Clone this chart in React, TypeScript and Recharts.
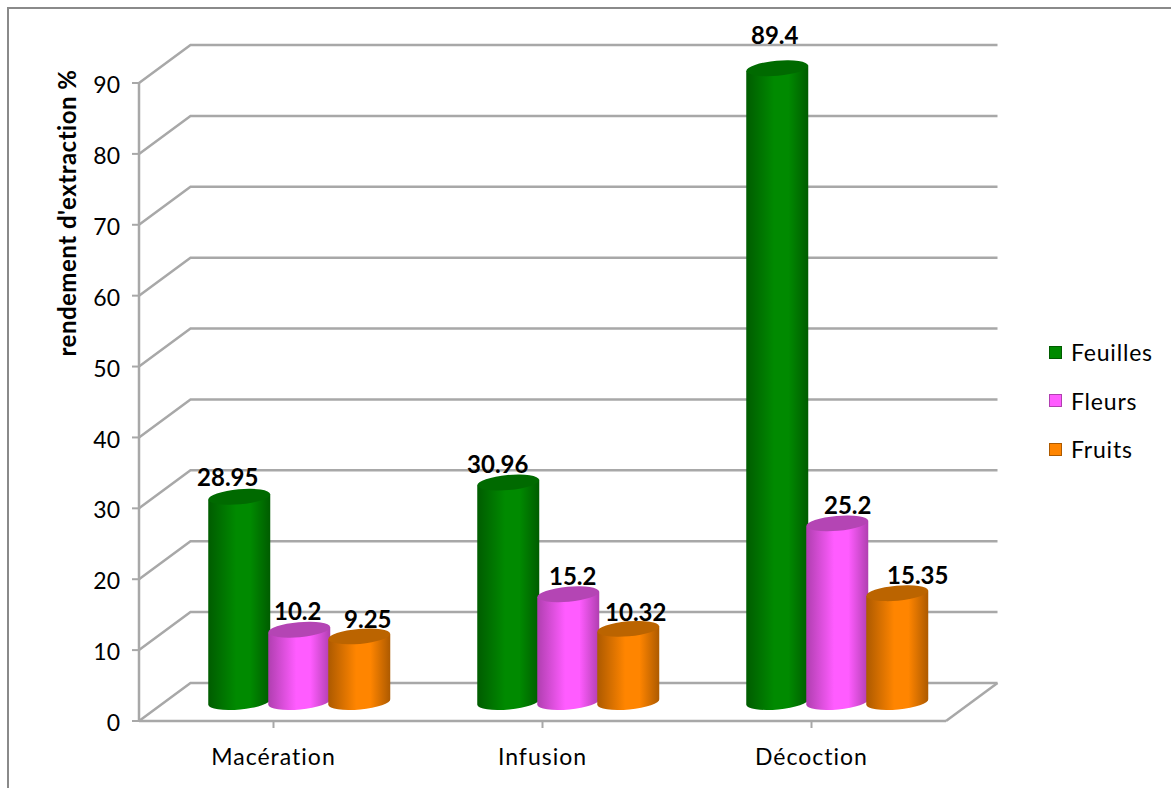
import { BarChart, Bar, XAxis, YAxis, CartesianGrid, Legend, LabelList, Label } from "recharts";

const methods = ["Macération", "Infusion", "Décoction"];
const feuilles = [28.95, 30.96, 89.4];
const fleurs = [10.2, 15.2, 25.2];
const fruits = [9.25, 10.32, 15.35];
const yTicks = [0, 10, 20, 30, 40, 50, 60, 70, 80, 90];

const data = methods.map((method, i) => ({
  method,
  Feuilles: feuilles[i],
  Fleurs: fleurs[i],
  Fruits: fruits[i],
}));

// depth of the fake 3D box: back wall sits up and to the right of the front plane
const DEPTH_X = 51.5;
const DEPTH_Y = 38;
const AXIS_COLOR = "#a8a8a8";
const FONT = "Lato, Carlito, sans-serif";

const palette = {
  Feuilles: { edge: "#005c00", mid: "#008a00", top: "#006a00" },
  Fleurs: { edge: "#b03fb0", mid: "#ff5cff", top: "#b445b4" },
  Fruits: { edge: "#ad5a00", mid: "#ff8500", top: "#bb6400" },
};

// hand-placed data labels, one nudge per category
const labelNudge = {
  Feuilles: [[-12, 1], [-11, 2], [-3, -12]],
  Fleurs: [[-2, 2], [4, 3], [10, 3]],
  Fruits: [[8, 4], [7, 4], [20, 3]],
};

function Cylinder(props: any) {
  const { x, y, width, height, dataKey } = props;
  const left = x + DEPTH_X / 2 - 1.5;
  const right = left + width + 2;
  const rx = (right - left) / 2;
  const top = y - DEPTH_Y / 2;
  const base = y + height - DEPTH_Y / 2;
  const tilt = 2.8;
  const body =
    `M${left},${top + tilt} L${left},${base + tilt} ` +
    `A${rx},7.5 -5 0 0 ${right},${base - tilt} L${right},${top - tilt} Z`;
  return (
    <g>
      <path d={body} fill={`url(#grad-${dataKey})`} />
      <ellipse
        cx={(left + right) / 2}
        cy={top}
        rx={rx}
        ry={7.5}
        fill={(palette as any)[dataKey].top}
        transform={`rotate(-5 ${(left + right) / 2} ${top})`}
      />
    </g>
  );
}

function BoxGridLine(props: any) {
  const { x1, x2, y1, y, height } = props;
  const backY = y1 - DEPTH_Y;
  const isFloor = y1 >= y + height - 0.5;
  return (
    <g fill="none" stroke={AXIS_COLOR} strokeWidth={2.5}>
      <polyline points={`${x1},${y1} ${x1 + DEPTH_X},${backY} ${x2 + DEPTH_X},${backY}`} />
      {isFloor && <line x1={x2} y1={y1} x2={x2 + DEPTH_X} y2={backY} />}
    </g>
  );
}

function ValueLabel(props: any, key: string) {
  const { x, y, width, index, value } = props;
  const [dx, dy] = (labelNudge as any)[key][index];
  return (
    <text
      x={x + width / 2 + DEPTH_X / 2 + dx}
      y={y - DEPTH_Y / 2 - 12 + dy}
      textAnchor="middle"
      fontFamily={FONT}
      fontWeight={700}
      fontSize={24}
      fill="#000"
    >
      {value}
    </text>
  );
}

function LegendBlock(props: any) {
  return (
    <div style={{ fontFamily: FONT, fontSize: 23, color: "#000", letterSpacing: 0.8 }}>
      {props.payload.map((item: any) => (
        <div key={item.value} style={{ display: "flex", alignItems: "center", height: 48.5 }}>
          <span
            style={{
              display: "inline-block",
              width: 13,
              height: 13,
              marginRight: 9,
              background: (palette as any)[item.value].mid,
              border: `1px solid ${(palette as any)[item.value].edge}`,
              boxSizing: "border-box",
            }}
          />
          {item.value}
        </div>
      ))}
    </div>
  );
}

export default function App() {
  const series = ["Feuilles", "Fleurs", "Fruits"];
  return (
    <div style={{ position: "absolute", left: 0, top: 0, width: 1171, height: 788, background: "#fff", overflow: "hidden" }}>
      <div
        style={{
          position: "absolute",
          left: 7,
          top: 7,
          right: 0,
          bottom: 0,
          borderLeft: "2px solid #8a8a8a",
          borderTop: "2px solid #8a8a8a",
        }}
      />
      <div style={{ position: "absolute", left: 0, top: 0 }}>
        <BarChart
          width={1171}
          height={788}
          data={data}
          margin={{ top: 83, right: 225, bottom: 27, left: 79 }}
          barSize={60}
          barGap={0}
        >
          <defs>
            {series.map((s) => (
              <linearGradient key={s} id={`grad-${s}`} x1="0" y1="0" x2="1" y2="0">
                <stop offset="0%" stopColor={(palette as any)[s].edge} />
                <stop offset="45%" stopColor={(palette as any)[s].mid} />
                <stop offset="68%" stopColor={(palette as any)[s].mid} />
                <stop offset="100%" stopColor={(palette as any)[s].edge} />
              </linearGradient>
            ))}
          </defs>
          <CartesianGrid vertical={false} horizontal={BoxGridLine as any} />
          <XAxis
            dataKey="method"
            height={40}
            interval={0}
            tickSize={7}
            tickMargin={21}
            axisLine={{ stroke: AXIS_COLOR, strokeWidth: 2.5 }}
            tickLine={{ stroke: AXIS_COLOR, strokeWidth: 2 }}
            tick={{ fill: "#000", fontSize: 23, fontFamily: FONT, letterSpacing: 1 }}
          />
          <YAxis
            width={60}
            domain={[0, 90]}
            ticks={yTicks}
            interval={0}
            tickSize={7}
            tickMargin={12}
            axisLine={{ stroke: AXIS_COLOR, strokeWidth: 2.5 }}
            tickLine={{ stroke: AXIS_COLOR, strokeWidth: 2 }}
            tick={{ fill: "#000", fontSize: 23, fontFamily: FONT, dy: 2 }}
          >
            <Label
              content={() => (
                <text
                  transform="translate(76 213) rotate(-90)"
                  textAnchor="middle"
                  fontFamily={FONT}
                  fontWeight={700}
                  fontSize={24}
                  letterSpacing={0.5}
                  fill="#000"
                >
                  rendement d'extraction %
                </text>
              )}
            />
          </YAxis>
          <Legend
            layout="vertical"
            align="center"
            verticalAlign="middle"
            wrapperStyle={{ left: 1049, top: 328, width: 122 }}
            content={LegendBlock}
          />
          {series.map((s) => (
            <Bar key={s} dataKey={s} fill={(palette as any)[s].mid} shape={Cylinder} isAnimationActive={false}>
              <LabelList dataKey={s} content={(p: any) => ValueLabel(p, s)} />
            </Bar>
          ))}
        </BarChart>
      </div>
    </div>
  );
}
